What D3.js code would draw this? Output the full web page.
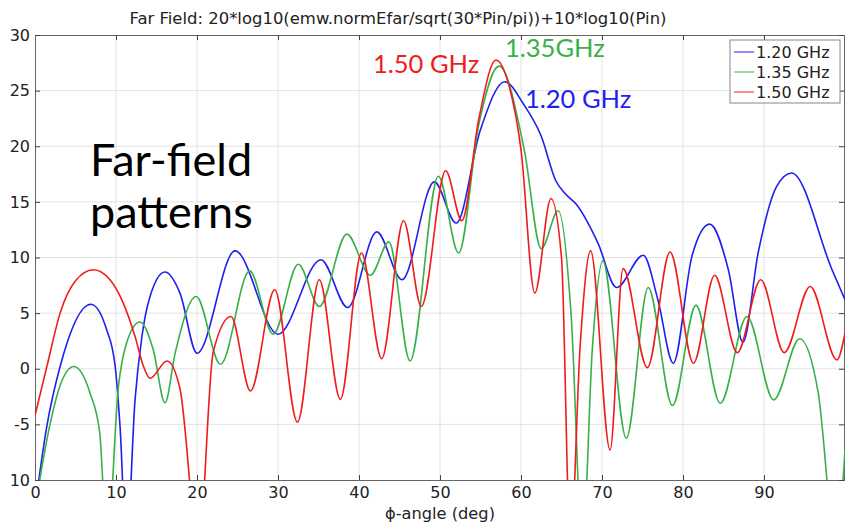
<!DOCTYPE html>
<html>
<head>
<meta charset="utf-8">
<script src="https://cdn.jsdelivr.net/npm/d3@7"></script>
<style>
  body { margin: 0; background: #fff; }
  svg { display: block; }
  .tick text { font-family: "DejaVu Sans", sans-serif; font-size: 16px; fill: #222; }
</style>
</head>
<body>
<div id="canvas"></div>
<script>
// ---- data ----
const freqNames = ['1.20 GHz', '1.35 GHz', '1.50 GHz'];
const freqColors = ['#1f1fee', '#38b04a', '#f01c1c'];

const phiTicks = [0, 10, 20, 30, 40, 50, 60, 70, 80, 90];
const dbTicks = [-10, -5, 0, 5, 10, 15, 20, 25, 30];

// 1.20 GHz
const phi120 = [0, 1.5, 3.1, 6.9, 8.85, 9.9, 10.5, 11.3, 12.35, 13.2, 14.2, 16.05, 17.9, 20.0, 24.7, 30.0, 35.3, 38.6, 42.2, 45.3, 49.3, 52.0, 55, 58, 60.3, 62.5, 64.3, 65.5, 66.8, 69.5, 71.8, 75.1, 76.9, 78.8, 81.1, 83.3, 85.6, 87.4, 89.3, 91.5, 93.4, 98.4, 100];
const db120 = [-12.5, -5, 0.2, 5.8, 3.5, 0.2, -5.2, -16, -2.8, 2.9, 6.5, 8.7, 6.8, 1.4, 10.6, 3.1, 9.8, 5.5, 12.3, 8.0, 16.8, 13.1, 21.5, 25.8, 23.8, 20.9, 16.9, 15.7, 14.8, 11.3, 7.3, 10.2, 6.2, 0.5, 10.1, 13.0, 8.9, 2.4, 10.5, 16.3, 17.6, 8.9, 6.2];

// 1.35 GHz
const phi135 = [0, 2, 3.1, 4.8, 6.8, 8.0, 8.9, 10.3, 11.3, 12.96, 14.6, 16.05, 17.3, 19.9, 22.9, 26.5, 29.4, 32.5, 35.1, 38.5, 41.4, 43.7, 46.3, 49.8, 52.3, 54.8, 57.3, 60.4, 62.5, 64.6, 66.2, 67.6, 68.8, 70.1, 73.0, 75.7, 78.7, 81.6, 84.6, 87.9, 91.2, 94.4, 96.7, 98.9, 100];
const db135 = [-12.5, -4.5, -1.5, 0.2, -2.2, -5.8, -16, -1.6, 2.3, 4.2, 1.7, -3.05, 1.4, 6.5, 0.4, 8.8, 3.1, 9.4, 5.6, 12.1, 8.4, 11.4, 0.7, 17.3, 10.4, 22, 27.2, 19.7, 10.8, 14.2, 4.7, -16, 1.7, 9.7, -6.25, 7.3, -3.3, 5.7, -3.1, 4.7, -2.8, 2.7, -2.2, -16, -7.3];

// 1.50 GHz
const phi150 = [0, 1.5, 3.1, 5, 7.2, 9.26, 10.9, 12.35, 13.4, 14.2, 16.3, 17.9, 20.2, 22, 24.2, 26.6, 29.6, 32.4, 35.1, 37.7, 40.3, 42.8, 45.5, 47.7, 50.7, 52.7, 54.8, 56.9, 58.5, 60.0, 61.7, 63.7, 65.0, 66.1, 67.3, 68.6, 71.0, 72.6, 75.6, 78.4, 81.3, 83.9, 86.7, 89.6, 92.5, 95.7, 99.0, 100];
const db150 = [-4.2, 0.3, 5.0, 7.9, 8.9, 8.0, 5.9, 2.9, 0.2, -0.86, 0.7, -1.8, -16, 1.5, 4.7, -2.0, 7.1, -4.8, 8.0, -2.75, 10.4, 0.9, 13.3, 5.6, 17.8, 13.3, 22.5, 27.75, 25.5, 19.7, 6.8, 15.3, 10, -16, 2, 10.6, -7.3, 9.0, 0.1, 10.5, 0.5, 8.4, 1.45, 8.0, 1.45, 7.4, 0.8, 3.2];

const allPhi = [phi120, phi135, phi150];
const allDb = [db120, db135, db150];

// ---- layout ----
const width = 845, height = 531;
const plotL = 35, plotT = 35, plotR = 845, plotB = 480;

const svg = d3.select('#canvas')
  .append('svg')
  .attr('width', width)
  .attr('height', height);

const x = d3.scaleLinear().domain([0, 100]).range([plotL, plotR]);
const y = d3.scaleLinear().domain([-10, 30]).range([plotB, plotT]);

// grid
svg.append('g')
  .selectAll('line')
  .data(phiTicks.slice(1))
  .join('line')
  .attr('x1', d => x(d)).attr('x2', d => x(d))
  .attr('y1', plotT).attr('y2', plotB)
  .attr('stroke', '#e3e3e3');

svg.append('g')
  .selectAll('line')
  .data(dbTicks.slice(1, -1))
  .join('line')
  .attr('x1', plotL).attr('x2', plotR)
  .attr('y1', d => y(d)).attr('y2', d => y(d))
  .attr('stroke', '#e3e3e3');

// axes: bottom + left with labels, top + right just ticks
const fmtDb = d => d === -10 ? '10' : String(d);

svg.append('g')
  .attr('transform', `translate(0,${plotB})`)
  .call(d3.axisBottom(x).tickValues(phiTicks).tickSizeInner(-5).tickSizeOuter(0).tickPadding(7))
  .call(g => g.select('.domain').attr('stroke', '#666'))
  .call(g => g.selectAll('.tick line').attr('stroke', '#444'));

svg.append('g')
  .attr('transform', `translate(0,${plotT})`)
  .call(d3.axisTop(x).tickValues(phiTicks).tickSizeInner(-5).tickSizeOuter(0).tickFormat(''))
  .call(g => g.select('.domain').attr('stroke', '#666'))
  .call(g => g.selectAll('.tick line').attr('stroke', '#444'));

svg.append('g')
  .attr('transform', `translate(${plotL},0)`)
  .call(d3.axisLeft(y).tickValues(dbTicks).tickSizeInner(-5).tickSizeOuter(0).tickPadding(5).tickFormat(fmtDb))
  .call(g => g.select('.domain').attr('stroke', '#666'))
  .call(g => g.selectAll('.tick line').attr('stroke', '#444'));

svg.append('g')
  .attr('transform', `translate(${plotR - 1},0)`)
  .call(d3.axisRight(y).tickValues(dbTicks).tickSizeInner(-5).tickSizeOuter(0).tickFormat(''))
  .call(g => g.select('.domain').attr('stroke', '#666'))
  .call(g => g.selectAll('.tick line').attr('stroke', '#444'));

// clip so the deep nulls get cut at -10
svg.append('clipPath').attr('id', 'plotclip')
  .append('rect')
  .attr('x', plotL).attr('y', plotT)
  .attr('width', plotR - plotL).attr('height', plotB - plotT);

const line = d3.line()
  .x(d => x(d[0]))
  .y(d => y(d[1]))
  .curve(d3.curveMonotoneX);

svg.append('g')
  .attr('clip-path', 'url(#plotclip)')
  .selectAll('path')
  .data(allPhi.map((p, i) => p.map((v, j) => [v, allDb[i][j]])))
  .join('path')
  .attr('fill', 'none')
  .attr('stroke', (d, i) => freqColors[i])
  .attr('stroke-width', 1.6)
  .attr('d', line);

// title + axis label
svg.append('text')
  .attr('x', 398).attr('y', 24)
  .attr('text-anchor', 'middle')
  .attr('textLength', 537)
  .attr('lengthAdjust', 'spacingAndGlyphs')
  .style('font', '15px "DejaVu Sans", sans-serif')
  .attr('fill', '#222')
  .text('Far Field: 20*log10(emw.normEfar/sqrt(30*Pin/pi))+10*log10(Pin)');

svg.append('text')
  .attr('x', 440).attr('y', 519)
  .attr('text-anchor', 'middle')
  .attr('textLength', 110)
  .attr('lengthAdjust', 'spacingAndGlyphs')
  .style('font', '16.5px "DejaVu Sans", sans-serif')
  .attr('fill', '#222')
  .text('ϕ-angle (deg)');

// big annotation
svg.append('text')
  .attr('x', 90).attr('y', 176)
  .style('font', '45px Lato, "Open Sans", sans-serif')
  .attr('fill', '#000')
  .text('Far-field');
svg.append('text')
  .attr('x', 90).attr('y', 228)
  .style('font', '45px Lato, "Open Sans", sans-serif')
  .attr('fill', '#000')
  .text('patterns');

// frequency labels near the main lobe
const tagX = [525, 505, 373];
const tagY = [108, 57, 73];
const tagText = ['1.20 GHz', '1.35GHz', '1.50 GHz'];
svg.append('g')
  .selectAll('text')
  .data(tagText)
  .join('text')
  .attr('x', (d, i) => tagX[i])
  .attr('y', (d, i) => tagY[i])
  .style('font', '25.5px Lato, "Open Sans", sans-serif')
  .attr('fill', (d, i) => freqColors[i])
  .text(d => d);

// legend
const legend = svg.append('g').attr('transform', 'translate(730,40)');
legend.append('rect')
  .attr('width', 110).attr('height', 63)
  .attr('fill', '#fff')
  .attr('stroke', '#888');
const row = legend.selectAll('g.row')
  .data(freqNames)
  .join('g')
  .attr('class', 'row')
  .attr('transform', (d, i) => `translate(0,${12 + i * 20})`);
row.append('line')
  .attr('x1', 4).attr('x2', 24)
  .attr('stroke', (d, i) => freqColors[i])
  .attr('stroke-width', 1);
row.append('text')
  .attr('x', 26).attr('dy', '0.35em')
  .style('font', '16px "DejaVu Sans", sans-serif')
  .attr('fill', '#222')
  .text(d => d);
</script>
</body>
</html>
